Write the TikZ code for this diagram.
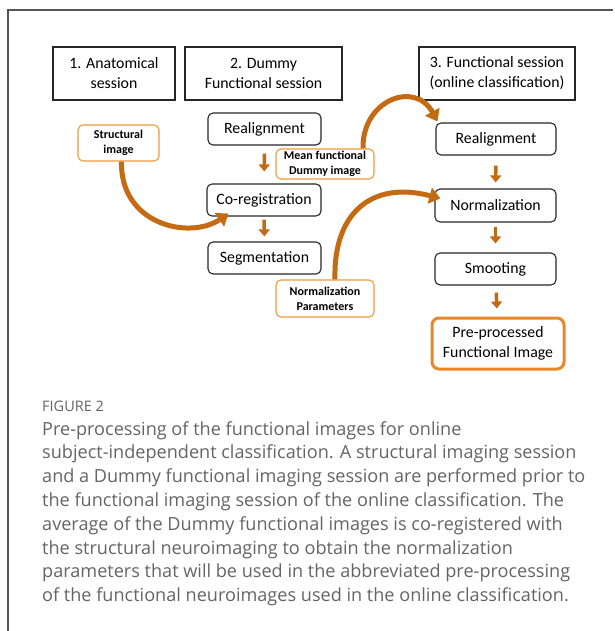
\documentclass[tikz,border=0pt]{standalone}
\usepackage{fontspec}
\setmainfont{Carlito}
\newfontfamily\capfont{Open Sans}
\usetikzlibrary{arrows.meta}
\definecolor{arrowor}{RGB}{196,106,18}
\definecolor{lightor}{RGB}{240,152,58}
\definecolor{boxor}{RGB}{232,135,40}
\definecolor{capgray}{RGB}{100,100,100}
\definecolor{framegray}{RGB}{85,85,85}
\tikzset{
  session/.style={draw=black!85, line width=1.4pt, align=center, inner sep=0pt, font=\fontsize{15.8}{20}\selectfont},
  stage/.style={draw=black!85, line width=1.1pt, rounded corners=5pt, align=center, inner sep=0pt, font=\fontsize{15.8}{20}\selectfont},
  data/.style={draw=lightor, line width=1.1pt, rounded corners=5pt, align=center, inner sep=0pt, font=\bfseries\fontsize{12}{15}\selectfont},
  result/.style={draw=boxor, line width=3pt, rounded corners=7pt, align=center, inner sep=0pt, font=\fontsize{15.8}{20}\selectfont},
  flow/.style={draw=arrowor, line width=3.5pt, -{Triangle[length=7pt,width=11pt]}},
  curvearrow/.style={draw=arrowor, line width=5pt, -{Triangle[length=11pt,width=16pt]}},
  caption/.style={align=left, inner sep=0pt, text=capgray, font=\capfont\fontsize{18.1}{23.8}\selectfont}
}

\begin{document}
\begin{tikzpicture}[x=1pt,y=-1pt]
\useasboundingbox (0,0) rectangle (614,631);
\draw[framegray, line width=1.2pt] (613,10)--(8,10)--(8,631);
% session headers
\node[session, minimum width=122pt, minimum height=53pt] (anat) at (114,73.5) {1. Anatomical\\session};
\node[session, minimum width=157pt, minimum height=53pt] (dummy) at (263.5,73.5) {2. Dummy\\Functional session};
\node[session, minimum width=156pt, minimum height=53pt] (online) at (497,73.5) {3. Functional session\\(online classification)};
% dummy session steps
\node[stage, minimum width=113pt, minimum height=32pt] (realignA) at (264.5,129) {Realignment};
\node[stage, minimum width=114pt, minimum height=32pt] (coreg) at (264,200) {Co-registration};
\node[stage, minimum width=113pt, minimum height=32pt] (seg) at (264.5,258) {Segmentation};
% online session steps
\node[stage, minimum width=120pt, minimum height=32pt] (realignB) at (496,139) {Realignment};
\node[stage, minimum width=121pt, minimum height=33pt] (norm) at (495.5,205.5) {Normalization};
\node[stage, minimum width=121pt, minimum height=32pt] (smooth) at (495.5,269) {Smooting};
\node[result, minimum width=132pt, minimum height=51pt] (preproc) at (498,343.5) {Pre-processed\\Functional Image};
% images passed between sessions
\node[data, minimum width=81pt, minimum height=36pt] (struct) at (118.5,143) {Structural\\image};
\node[data, minimum width=98pt, minimum height=30pt] (mean) at (325,164) {Mean functional\\Dummy image};
\node[data, minimum width=98pt, minimum height=37pt] (normpar) at (325,298.5) {Normalization\\Parameters};
% straight arrows
\draw[flow, shorten <=8pt, shorten >=12pt] (realignA) -- (coreg);
\draw[flow, shorten <=3pt, shorten >=5pt] (coreg) -- (seg);
\draw[flow, shorten <=10pt, shorten >=6pt] (realignB) -- (norm);
\draw[flow, shorten <=4pt, shorten >=9pt] (norm) -- (smooth);
\draw[flow, shorten <=7pt, shorten >=8pt] (smooth) -- (preproc);
% curved arrows
\draw[curvearrow] ([xshift=3pt]struct.south) .. controls (120,225) and (190,240) .. ([xshift=22pt,yshift=3pt]coreg.south west);
\draw[curvearrow] ([xshift=38pt]mean.north) .. controls (362,100) and (415,80) .. ([xshift=2pt,yshift=1pt]realignB.north west);
\draw[curvearrow] ([xshift=10pt]normpar.north) .. controls (333,215) and (370,180) .. ([xshift=6pt,yshift=-10pt]norm.north west);
% caption
\node[anchor=base west, inner sep=0pt, text=capgray, font=\capfont\fontsize{14.5}{17}\selectfont] (fig) at (42,411.5) {FIGURE 2};
\node[caption, anchor=north west] (cap) at (42,421) {Pre-processing of the functional images for online\\
subject-independent classification. A structural imaging session\\
and a Dummy functional imaging session are performed prior to\\
the functional imaging session of the online classification. The\\
average of the Dummy functional images is co-registered with\\
the structural neuroimaging to obtain the normalization\\
parameters that will be used in the abbreviated pre-processing\\
of the functional neuroimages used in the online classification.};
\end{tikzpicture}
\end{document}
